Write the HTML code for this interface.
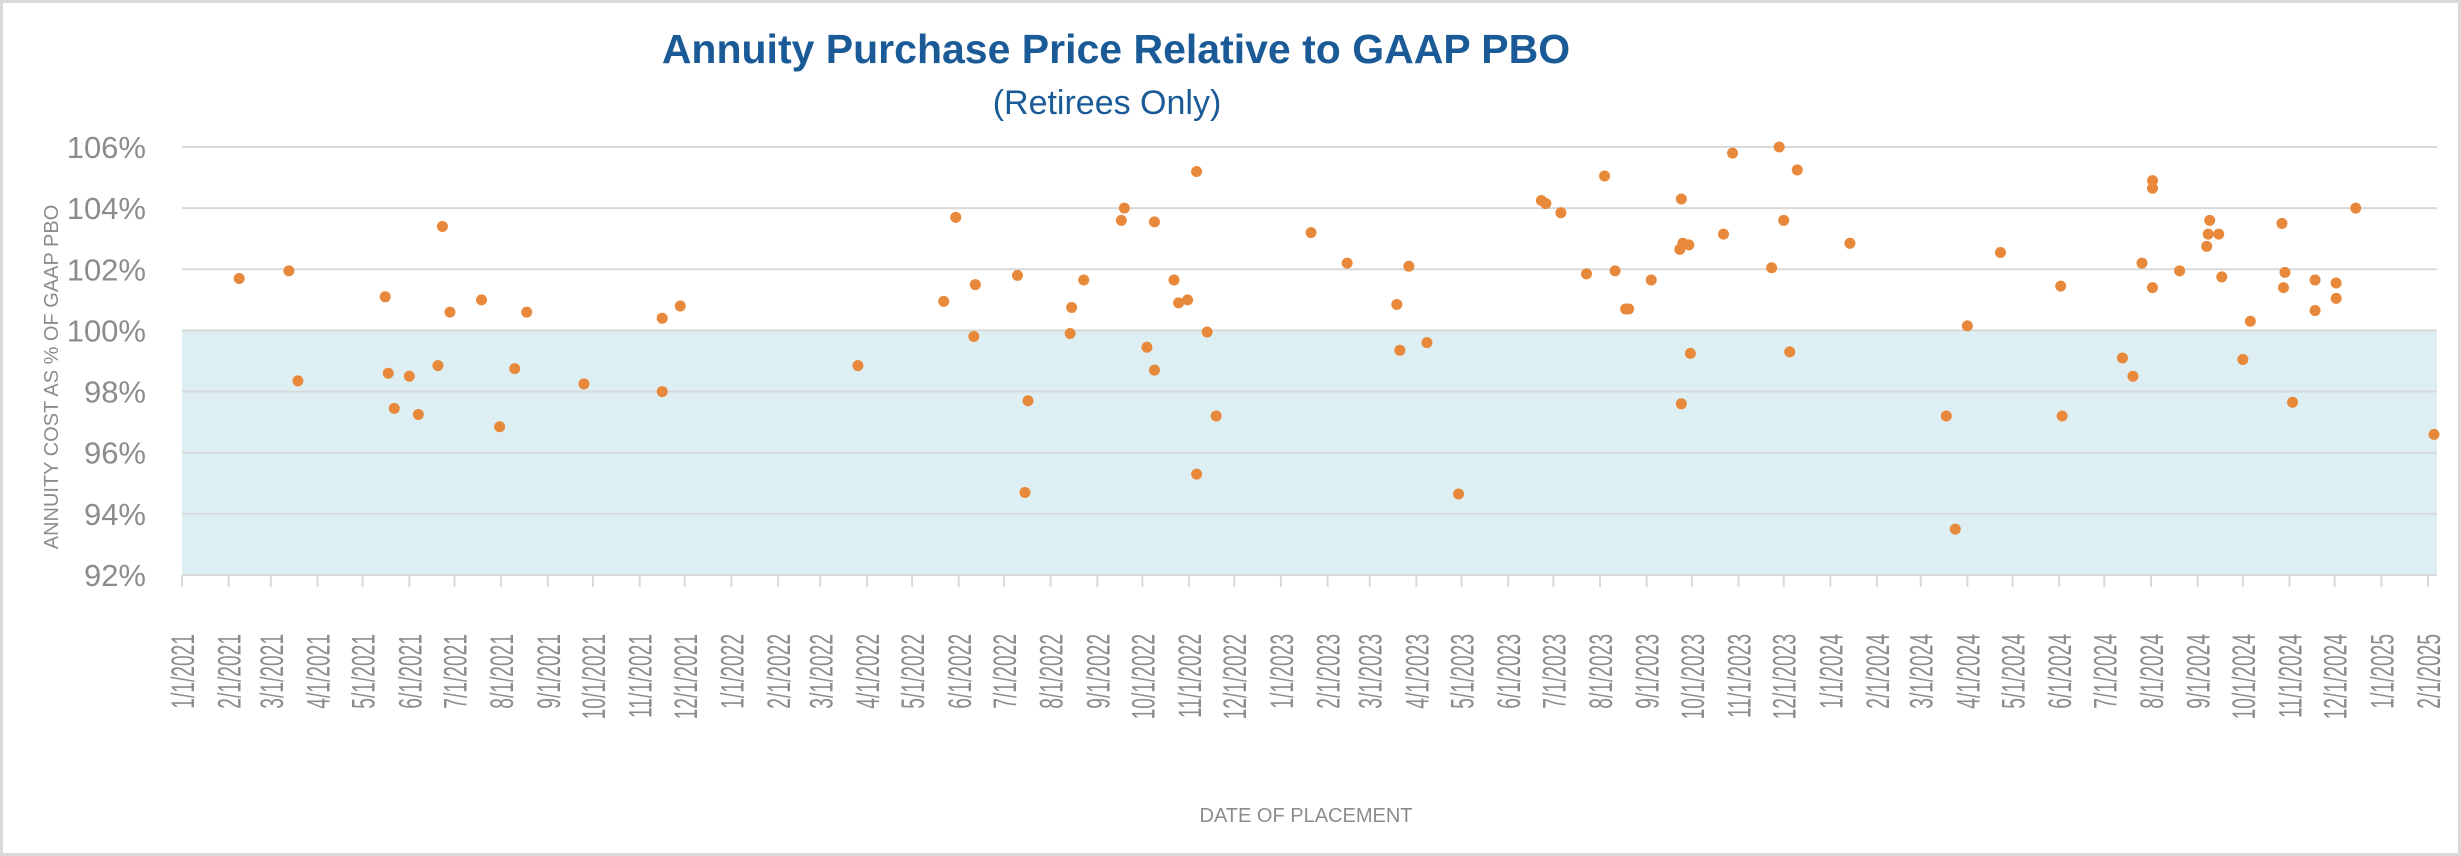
<!DOCTYPE html>
<html><head><meta charset="utf-8"><style>
html,body{margin:0;padding:0;background:#fff;}
svg{display:block;font-family:"Liberation Sans",sans-serif;}
</style></head><body>
<svg id="chart" width="2461" height="856" viewBox="0 0 2461 856" xmlns="http://www.w3.org/2000/svg">
<rect x="1.5" y="1.5" width="2458" height="853" fill="#fff" stroke="#d9d9d9" stroke-width="3"/>
<text x="1116" y="63" text-anchor="middle" font-size="41" font-weight="bold" fill="#1a5a96">Annuity Purchase Price Relative to GAAP PBO</text>
<text x="1107" y="114" text-anchor="middle" font-size="34" fill="#1a5a96">(Retirees Only)</text>
<g id="plot"></g>
<text transform="translate(58,377) rotate(-90)" text-anchor="middle" font-size="20" fill="#8c8c8c">ANNUITY COST AS % OF GAAP PBO</text>
<text x="1306" y="822" text-anchor="middle" font-size="20" fill="#8c8c8c">DATE OF PLACEMENT</text>
</svg>
<script>
const yTicks = [92, 94, 96, 98, 100, 102, 104, 106];
const dates = ["2021-02-08","2021-03-13","2021-03-19","2021-05-16","2021-05-18","2021-05-22","2021-06-01","2021-06-07","2021-06-23","2021-06-20","2021-06-28","2021-07-19","2021-07-31","2021-08-10","2021-08-18","2021-09-25","2021-11-16","2021-11-16","2021-11-28","2022-03-26","2022-05-22","2022-05-30","2022-06-12","2022-06-11","2022-07-10","2022-07-17","2022-07-15","2022-08-14","2022-08-15","2022-08-23","2022-09-17","2022-09-19","2022-10-04","2022-10-09","2022-10-09","2022-10-22","2022-10-25","2022-10-31","2022-11-06","2022-11-06","2022-11-13","2022-11-19","2023-01-21","2023-02-14","2023-03-19","2023-03-21","2023-03-27","2023-04-08","2023-04-29","2023-06-23","2023-06-26","2023-07-06","2023-07-23","2023-08-04","2023-08-11","2023-08-18","2023-08-20","2023-09-04","2023-09-24","2023-09-23","2023-09-25","2023-09-29","2023-09-24","2023-09-30","2023-10-22","2023-10-28","2023-11-23","2023-11-28","2023-12-01","2023-12-05","2023-12-10","2024-01-14","2024-03-18","2024-03-24","2024-04-01","2024-04-23","2024-06-02","2024-06-03","2024-07-13","2024-07-20","2024-07-26","2024-08-02","2024-08-02","2024-08-02","2024-08-20","2024-09-07","2024-09-08","2024-09-09","2024-09-15","2024-09-17","2024-10-01","2024-10-06","2024-10-27","2024-10-28","2024-10-29","2024-11-03","2024-11-18","2024-11-18","2024-12-02","2024-12-02","2024-12-15","2025-02-05"];
const costPct = [101.7,101.95,98.35,101.1,98.6,97.45,98.5,97.25,103.4,98.85,100.6,101.0,96.85,98.75,100.6,98.25,100.4,98.0,100.8,98.85,100.95,103.7,101.5,99.8,101.8,97.7,94.7,99.9,100.75,101.65,103.6,104.0,99.45,103.55,98.7,101.65,100.9,101.0,105.2,95.3,99.95,97.2,103.2,102.2,100.85,99.35,102.1,99.6,94.65,104.25,104.15,103.85,101.85,105.05,101.95,100.7,100.7,101.65,104.3,102.65,102.85,102.8,97.6,99.25,103.15,105.8,102.05,106.0,103.6,99.3,105.25,102.85,97.2,93.5,100.15,102.55,101.45,97.2,99.1,98.5,102.2,101.4,104.9,104.65,101.95,102.75,103.15,103.6,103.15,101.75,99.05,100.3,103.5,101.4,101.9,97.65,101.65,100.65,101.55,101.05,104.0,96.6];

const NS = "http://www.w3.org/2000/svg";
const plot = document.getElementById('plot');
const X0 = 182, X1 = 2428, Y0 = 575, Y1 = 147;
const D0 = Date.UTC(2021,0,1), D1 = Date.UTC(2025,1,1);
function xScale(d){ const t = (typeof d === 'string') ? Date.parse(d+"T00:00:00Z") : d; return X0 + (t - D0)/(D1 - D0)*(X1 - X0); }
function yScale(v){ return Y0 + (v - 92)/(106 - 92)*(Y1 - Y0); }
const XR = 2437;
function mk(tag, attrs){ const e = document.createElementNS(NS, tag); for (const k in attrs) e.setAttribute(k, attrs[k]); return e; }

const band = mk('rect', {x:X0, y:yScale(100), width:XR-X0, height:yScale(92)-yScale(100), fill:'#ddeff3'});


plot.appendChild(band);

yTicks.forEach(v => {
  const y = yScale(v);
  if (v > 92) {
    const g = mk('line', {x1:X0, x2:XR, y1:y, y2:y, stroke:'#d9d9d9', 'stroke-width':2});
    
    
    plot.appendChild(g);
  }
  const t = mk('text', {x:146, y:y+11, 'text-anchor':'end', 'font-size':31, fill:'#8c8c8c'});
  t.textContent = v + '%';
  
  
  plot.appendChild(t);
});

const axis = mk('line', {x1:X0, x2:XR, y1:Y0, y2:Y0, stroke:'#d9d9d9', 'stroke-width':2});


plot.appendChild(axis);

for (let m = 0; m <= 49; m++) {
  const yr = 2021 + Math.floor(m/12), mo = m % 12;
  const x = xScale(Date.UTC(yr, mo, 1));
  const tk = mk('line', {x1:x, x2:x, y1:Y0, y2:Y0+12, stroke:'#d9d9d9', 'stroke-width':2});
  
  
  plot.appendChild(tk);
  const lbl = (mo+1) + '/1/' + yr;
  const t = mk('text', {transform:'translate(' + (x+12) + ',' + 634 + ') rotate(-90) scale(0.6,1)', 'text-anchor':'end', 'font-size':32, fill:'#8c8c8c'});
  t.textContent = lbl;
  
  
  plot.appendChild(t);
}

dates.forEach((d, i) => {
  const c = mk('circle', {cx:xScale(d), cy:yScale(costPct[i]), r:5.5, fill:'#e8883a'});
  
  
  plot.appendChild(c);
});
</script>
</body></html>
